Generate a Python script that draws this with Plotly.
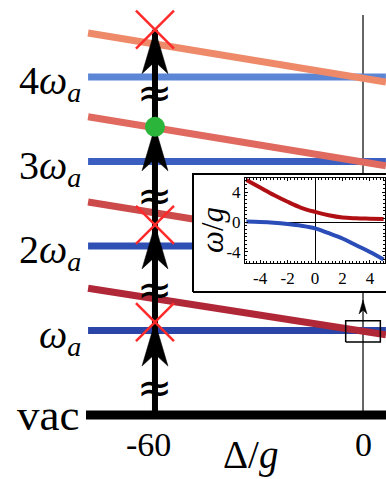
import plotly.graph_objects as go

# ---------------- data ----------------
levels = [1, 2, 3, 4]
level_labels = ["<i>ω</i><sub><i>a</i></sub>", "2<i>ω</i><sub><i>a</i></sub>",
                "3<i>ω</i><sub><i>a</i></sub>", "4<i>ω</i><sub><i>a</i></sub>"]
line_delta = [-79.3, 0.0, 6.6]          # Δ/g where the dressed lines are sampled
red_left = [1.50, 2.52, 3.53, 4.52]      # red line value at Δ/g = -79.3
red_zero = [1.00, 2.00, 3.00, 4.00]      # red line value at Δ/g = 0
red_right = [0.95, 1.95, 2.95, 3.94]     # red line value at right edge
drive_delta = -60
arrow_tips = [1.10, 2.25, 3.41, 4.56]
tip_kind = ["x", "x", "dot", "x"]
break_marks = [0.33, 1.48, 2.60, 3.82]
tick_vals = [-60, 0]
tick_text = ["-60", "0"]

inset_delta = [-5, -4, -3, -2, -1, 0, 1, 2, 3, 4, 5]
inset_red = [5.6, 4.6, 3.6, 2.7, 1.9, 1.35, 0.9, 0.6, 0.5, 0.45, 0.4]
inset_blue = [0.05, 0.0, -0.1, -0.27, -0.5, -0.85, -1.5, -2.2, -3.1, -4.0, -5.0]
inset_xticks = [-4, -2, 0, 2, 4]
inset_yticks = [-4, 0, 4]

# ---------------- styles ----------------
blue_colors = ["#2a44a8", "#2e4fb4", "#3a5fc0", "#5b86d6"]
red_colors = ["#b02838", "#cc4a4a", "#e06a60", "#ee8a6a"]
SERIF = "Liberation Serif, Times New Roman, serif"
W, H = 386, 479
XR = [-104.7, 6.63]
YR = [-0.757, 4.911]


def px2x(px):
    return XR[0] + px / W * (XR[1] - XR[0])


def py2y(py):
    return YR[1] - py / H * (YR[1] - YR[0])


XU = (XR[1] - XR[0]) / W  # data units per pixel
YU = (YR[1] - YR[0]) / H


def arrowhead(xc, tip, w, h, notch):
    dx = w / 2 * XU
    return ([xc, xc - dx, xc, xc + dx, xc],
            [tip, tip - h * YU, tip - notch * YU, tip - h * YU, tip])


fig = go.Figure()

# vertical Δ=0 guide
fig.add_trace(go.Scatter(x=[0, 0], y=[0, py2y(15)], mode="lines",
                         line=dict(color="black", width=1.2), hoverinfo="skip"))

# bare levels
for n, c in zip(levels, blue_colors):
    fig.add_trace(go.Scatter(x=[line_delta[0], line_delta[-1]], y=[n, n], mode="lines",
                             line=dict(color=c, width=7), hoverinfo="skip"))
# dressed lines
for i, c in enumerate(red_colors):
    fig.add_trace(go.Scatter(x=line_delta, y=[red_left[i], red_zero[i], red_right[i]],
                             mode="lines", line=dict(color=c, width=7), hoverinfo="skip"))
# vacuum
fig.add_trace(go.Scatter(x=[-79.9, XR[1]], y=[0, 0], mode="lines",
                         line=dict(color="black", width=9), hoverinfo="skip"))
# drive arrow shaft
fig.add_trace(go.Scatter(x=[drive_delta, drive_delta], y=[0, arrow_tips[-1]], mode="lines",
                         line=dict(color="black", width=6), hoverinfo="skip"))
for t in arrow_tips:
    ax, ay = arrowhead(drive_delta, t, 26, 44, 32)
    fig.add_trace(go.Scatter(x=ax, y=ay, mode="lines", fill="toself", fillcolor="black",
                             line=dict(color="black", width=0.5), hoverinfo="skip"))

# inset background
bx0, bx1, by0, by1 = px2x(193), px2x(392), py2y(292), py2y(174)
fig.add_trace(go.Scatter(x=[bx0, bx1, bx1, bx0, bx0], y=[by0, by0, by1, by1, by0],
                         mode="lines", fill="toself", fillcolor="white",
                         line=dict(color="black", width=2), hoverinfo="skip"))
# zoom box
fig.add_trace(go.Scatter(x=[-5, 5, 5, -5, -5], y=[0.865, 0.865, 1.115, 1.115, 0.865],
                         mode="lines", line=dict(color="black", width=1.5), hoverinfo="skip"))
ax, ay = arrowhead(0, py2y(300), 8, 14, 10)
fig.add_trace(go.Scatter(x=ax, y=ay, mode="lines", fill="toself", fillcolor="black",
                         line=dict(color="black", width=0.5), hoverinfo="skip"))

# markers on the tips
xs = [drive_delta for k, t in zip(tip_kind, arrow_tips) if k == "x"]
ys = [t for k, t in zip(tip_kind, arrow_tips) if k == "x"]
fig.add_trace(go.Scatter(x=xs, y=ys, mode="markers",
                         marker=dict(symbol="x-thin", size=38,
                                     line=dict(color="#ff2a2a", width=2.5)),
                         hoverinfo="skip"))
xs = [drive_delta for k, t in zip(tip_kind, arrow_tips) if k == "dot"]
ys = [t for k, t in zip(tip_kind, arrow_tips) if k == "dot"]
fig.add_trace(go.Scatter(x=xs, y=ys, mode="markers",
                         marker=dict(symbol="circle", size=20, color="#2bb53a"),
                         hoverinfo="skip"))

# inset curves
fig.add_trace(go.Scatter(x=inset_delta, y=inset_red, xaxis="x2", yaxis="y2", mode="lines",
                         line=dict(color="#b01014", width=4, shape="spline"), hoverinfo="skip"))
fig.add_trace(go.Scatter(x=inset_delta, y=inset_blue, xaxis="x2", yaxis="y2", mode="lines",
                         line=dict(color="#2a4db8", width=4, shape="spline"), hoverinfo="skip"))

annotations = []
for n, lab in zip(levels, level_labels):
    annotations.append(dict(x=px2x(83), y=n, text=lab, showarrow=False, xanchor="right",
                            yanchor="middle", yshift=-6,
                            font=dict(family=SERIF, size=40, color="black")))
annotations.append(dict(x=px2x(81), y=0, text="vac", showarrow=False, xanchor="right",
                        yanchor="middle", font=dict(family=SERIF, size=45, color="black")))
for v, t in zip(tick_vals, tick_text):
    annotations.append(dict(x=v, y=py2y(444), text=t, showarrow=False, xanchor="center",
                            yanchor="middle", xshift=-6 if t.startswith("-") else 0,
                            font=dict(family=SERIF, size=34, color="black")))
annotations.append(dict(x=px2x(250), y=py2y(455), text="Δ/<i>g</i>", showarrow=False,
                        xanchor="center", yanchor="middle",
                        font=dict(family=SERIF, size=39, color="black")))
for b in break_marks:
    annotations.append(dict(x=drive_delta, y=b, text="≈", showarrow=False,
                            xanchor="center", yanchor="middle",
                            font=dict(family="DejaVu Sans", size=42, color="black")))
annotations.append(dict(x=(213) / W, y=1 - 230 / H, xref="paper", yref="paper",
                        text="<i>ω</i>/<i>g</i>", textangle=-90, showarrow=False,
                        xanchor="center", yanchor="middle",
                        font=dict(family=SERIF, size=31, color="black")))

fig.update_layout(
    width=W, height=H, autosize=False,
    margin=dict(l=0, r=0, t=0, b=0, pad=0),
    paper_bgcolor="white", plot_bgcolor="white",
    showlegend=False,
    xaxis=dict(range=XR, visible=False, domain=[0, 1], fixedrange=True),
    yaxis=dict(range=YR, visible=False, domain=[0, 1], fixedrange=True),
    xaxis2=dict(domain=[245 / W, 385 / W], anchor="y2", range=[-5.1, 5.1],
                tickvals=inset_xticks, ticktext=[str(v) for v in inset_xticks],
                ticks="inside", ticklen=3, tickcolor="black", mirror="allticks",
                showline=True, linecolor="black", linewidth=1, showgrid=False,
                zeroline=True, zerolinecolor="black", zerolinewidth=1,
                minor=dict(dtick=0.25, ticks="inside", ticklen=2, tickcolor="black"),
                tickfont=dict(family=SERIF, size=17, color="black")),
    yaxis2=dict(domain=[1 - 263 / H, 1 - 178 / H], anchor="x2", range=[-5.47, 5.87],
                tickvals=inset_yticks, ticktext=[str(v) for v in inset_yticks],
                ticks="inside", ticklen=3, tickcolor="black", mirror="allticks",
                showline=True, linecolor="black", linewidth=1, showgrid=False,
                zeroline=True, zerolinecolor="black", zerolinewidth=1,
                minor=dict(dtick=0.5, ticks="inside", ticklen=2, tickcolor="black"),
                tickfont=dict(family=SERIF, size=17, color="black")),
    annotations=annotations,
)

fig.write_html("out.html")
